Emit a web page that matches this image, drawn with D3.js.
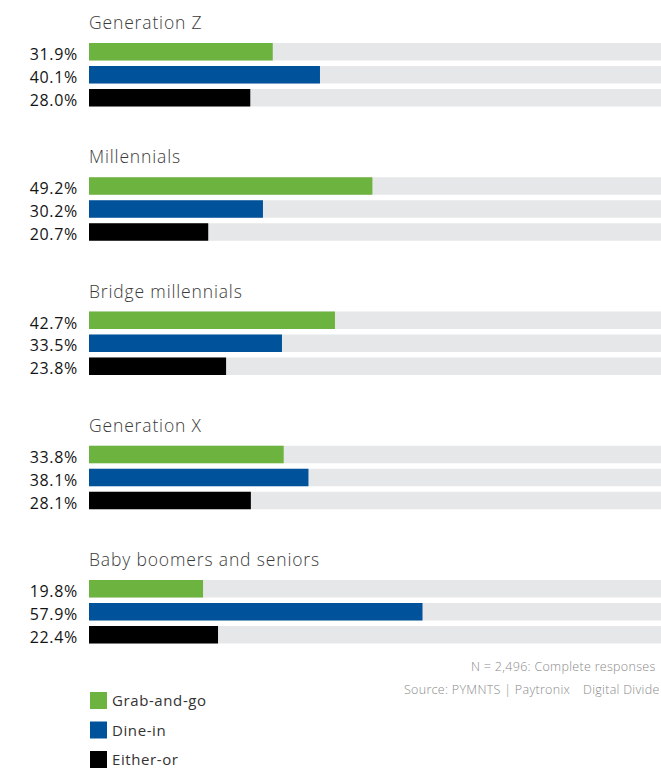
<!DOCTYPE html>
<html>
<head>
<meta charset="utf-8">
<script src="https://cdn.jsdelivr.net/npm/d3@7"></script>
<style>
  html, body { margin: 0; padding: 0; background: #fff; }
  svg { display: block; }
</style>
</head>
<body>
<svg id="chart" width="661" height="768"></svg>
<script>
// Age groups and the share choosing each dining option (%)
const categories = ["Generation Z", "Millennials", "Bridge millennials", "Generation X", "Baby boomers and seniors"];
const series = ["Grab-and-go", "Dine-in", "Either-or"];
const grabAndGo = [31.9, 49.2, 42.7, 33.8, 19.8];
const dineIn    = [40.1, 30.2, 33.5, 38.1, 57.9];
const eitherOr  = [28.0, 20.7, 23.8, 28.1, 22.4];
const footnotes = ["N = 2,496: Complete responses", "Source: PYMNTS | Paytronix", "Digital Divide"];

const values = [grabAndGo, dineIn, eitherOr];
const colors = ["#6db33f", "#00529b", "#000000"];
const FONT = "'Open Sans', sans-serif";

const svg = d3.select("#chart");

const x = d3.scaleLinear().domain([0, 100]).range([89, 665]);

const group = d3.scaleBand()
  .domain(categories)
  .range([43, 43 + 134.25 * categories.length]);

const inner = d3.scaleBand()
  .domain(series)
  .range([0, 63.5])
  .paddingInner(0.239)
  .paddingOuter(0);

const color = d3.scaleOrdinal().domain(series).range(colors);

const rows = categories.map((c, i) => ({
  category: c,
  bars: series.map((s, j) => ({ series: s, value: values[j][i] }))
}));

const g = svg.selectAll("g.group")
  .data(rows)
  .join("g")
  .attr("class", "group")
  .attr("transform", d => `translate(0,${group(d.category)})`);

// group titles
g.append("text")
  .attr("x", x(0))
  .attr("y", -14)
  .attr("font-family", FONT)
  .attr("font-weight", 300)
  .attr("font-size", 17.5)
  .attr("letter-spacing", 0.85)
  .attr("fill", "#3a3a3a")
  .text(d => d.category);

const bar = g.selectAll("g.bar")
  .data(d => d.bars)
  .join("g")
  .attr("class", "bar")
  .attr("transform", d => `translate(0,${inner(d.series)})`);

// full-width track
bar.append("rect")
  .attr("x", x(0))
  .attr("y", 0)
  .attr("width", x(100) - x(0))
  .attr("height", inner.bandwidth())
  .attr("fill", "#e6e7e8");

// value bar
bar.append("rect")
  .attr("x", x(0))
  .attr("y", 0)
  .attr("width", d => x(d.value) - x(0))
  .attr("height", inner.bandwidth())
  .attr("fill", d => color(d.series));

// value label
bar.append("text")
  .attr("x", 78)
  .attr("y", inner.bandwidth() - 0.5)
  .attr("text-anchor", "end")
  .attr("font-family", FONT)
  .attr("font-size", 16)
  .attr("letter-spacing", 0.7)
  .attr("fill", "#141414")
  .text(d => d.value.toFixed(1) + "%");

// footnotes
const notePos = [[471, 671], [404, 694], [583, 694]];
svg.selectAll("text.note")
  .data(footnotes)
  .join("text")
  .attr("class", "note")
  .attr("x", (d, i) => notePos[i][0])
  .attr("y", (d, i) => notePos[i][1])
  .attr("font-family", FONT)
  .attr("font-weight", 300)
  .attr("font-size", 12.5)
  .attr("letter-spacing", 0.3)
  .attr("fill", "#8a8a8a")
  .text(d => d);

// legend
const legend = svg.selectAll("g.legend")
  .data(series)
  .join("g")
  .attr("class", "legend")
  .attr("transform", (d, i) => `translate(90,${692 + i * 29.5})`);

legend.append("rect")
  .attr("width", 17)
  .attr("height", 17)
  .attr("fill", d => color(d));

legend.append("text")
  .attr("x", 22)
  .attr("y", 14)
  .attr("font-family", FONT)
  .attr("font-size", 15)
  .attr("letter-spacing", 0.6)
  .attr("fill", "#333")
  .text(d => d);
</script>
</body>
</html>
